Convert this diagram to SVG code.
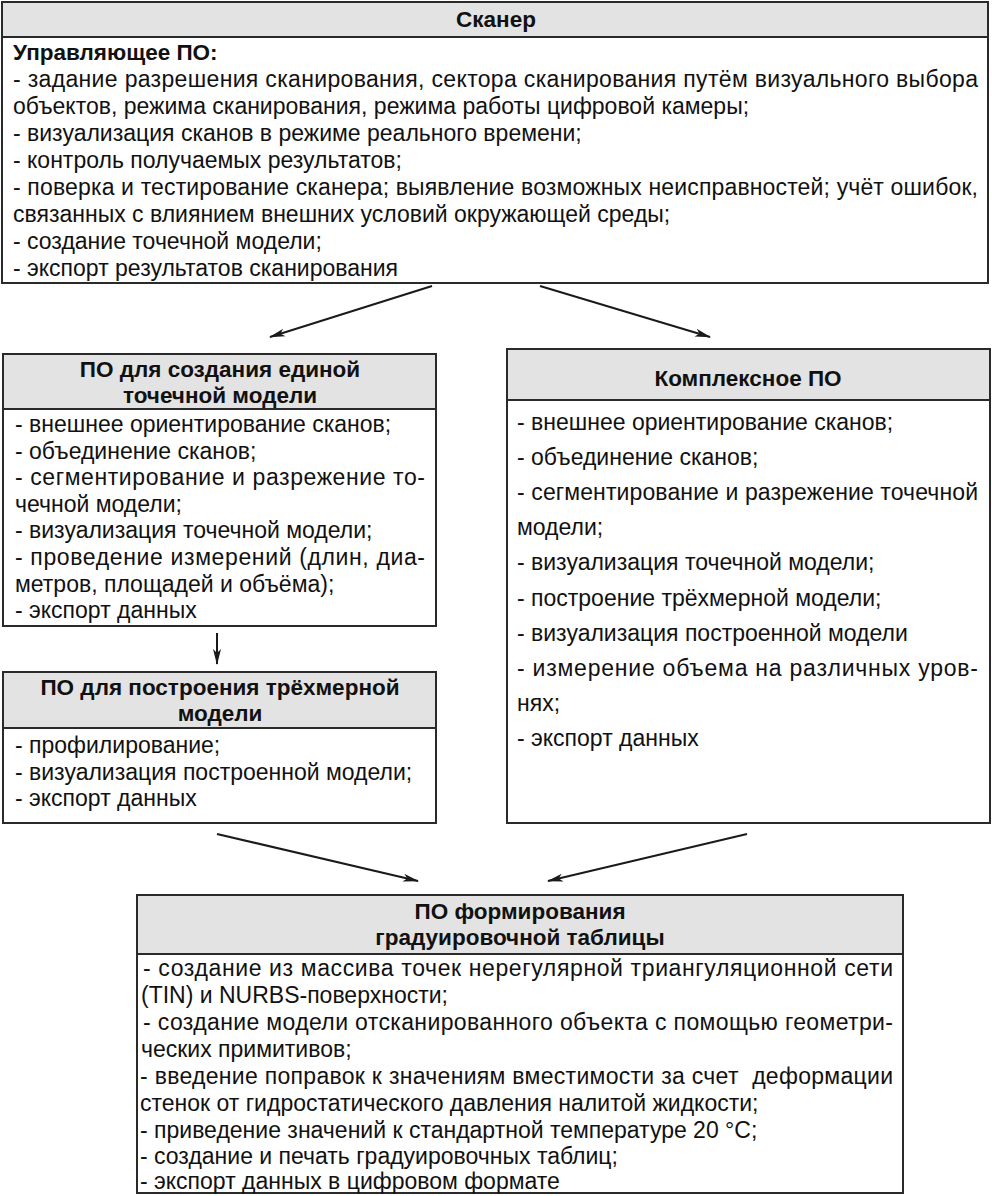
<svg xmlns="http://www.w3.org/2000/svg" width="992" height="1196" viewBox="0 0 992 1196">
<defs>
<style>
.box{fill:#ffffff;stroke:#2a2a2a;stroke-width:2}
.hdr{fill:#e3e3e3;stroke:#2a2a2a;stroke-width:2}
.t{font-family:"Liberation Sans",Arial,sans-serif;font-size:23px;fill:#111}
.b{font-family:"Liberation Sans",Arial,sans-serif;font-size:22.5px;font-weight:bold;fill:#111}
.c{text-anchor:middle}
.edge{stroke:#1a1a1a;stroke-width:2;fill:none;marker-end:url(#ah)}
</style>
<marker id="ah" markerUnits="userSpaceOnUse" markerWidth="16" markerHeight="10" viewBox="0 0 16 10" refX="15" refY="5" orient="auto">
<path d="M0,1 L16,5 L0,9 L4,5 Z" fill="#1a1a1a"/>
</marker>
</defs>
<rect width="992" height="1196" fill="#ffffff"/>

<g id="scanner">
<rect class="box" x="2" y="2" width="986" height="281"/>
<rect class="hdr" x="2" y="2" width="986" height="35"/>
<text class="b c" x="496" y="27">Сканер</text>
<text class="b" x="13" y="60">Управляющее ПО:</text>
<text class="t" x="13" y="87" textLength="965" lengthAdjust="spacing">- задание разрешения сканирования, сектора сканирования путём визуального выбора</text>
<text class="t" x="13" y="114">объектов, режима сканирования, режима работы цифровой камеры;</text>
<text class="t" x="13" y="141">- визуализация сканов в режиме реального времени;</text>
<text class="t" x="13" y="168">- контроль получаемых результатов;</text>
<text class="t" x="13" y="195" textLength="965" lengthAdjust="spacing">- поверка и тестирование сканера; выявление возможных неисправностей; учёт ошибок,</text>
<text class="t" x="13" y="222">связанных с влиянием внешних условий окружающей среды;</text>
<text class="t" x="13" y="249">- создание точечной модели;</text>
<text class="t" x="13" y="276">- экспорт результатов сканирования</text>
</g>

<g id="unified-model">
<rect class="box" x="3" y="354" width="433" height="272"/>
<rect class="hdr" x="3" y="354" width="433" height="55"/>
<text class="b c" x="220" y="377">ПО для создания единой</text>
<text class="b c" x="220" y="403">точечной модели</text>
<text class="t" x="15" y="432">- внешнее ориентирование сканов;</text>
<text class="t" x="15" y="459">- объединение сканов;</text>
<text class="t" x="15" y="485" textLength="410" lengthAdjust="spacing">- сегментирование и разрежение то-</text>
<text class="t" x="15" y="512">чечной модели;</text>
<text class="t" x="15" y="538">- визуализация точечной модели;</text>
<text class="t" x="15" y="565" textLength="410" lengthAdjust="spacing">- проведение измерений (длин, диа-</text>
<text class="t" x="15" y="592">метров, площадей и объёма);</text>
<text class="t" x="15" y="618">- экспорт данных</text>
</g>

<g id="model-3d">
<rect class="box" x="3" y="672" width="433" height="151"/>
<rect class="hdr" x="3" y="672" width="433" height="56"/>
<text class="b c" x="220" y="695">ПО для построения трёхмерной</text>
<text class="b c" x="220" y="721">модели</text>
<text class="t" x="15" y="753">- профилирование;</text>
<text class="t" x="15" y="780">- визуализация построенной модели;</text>
<text class="t" x="15" y="806">- экспорт данных</text>
</g>

<g id="complex">
<rect class="box" x="507" y="349" width="483" height="474"/>
<rect class="hdr" x="507" y="349" width="483" height="51"/>
<text class="b c" x="748" y="386">Комплексное ПО</text>
<text class="t" x="517" y="430">- внешнее ориентирование сканов;</text>
<text class="t" x="517" y="465">- объединение сканов;</text>
<text class="t" x="517" y="500" textLength="461" lengthAdjust="spacing">- сегментирование и разрежение точечной</text>
<text class="t" x="517" y="535">модели;</text>
<text class="t" x="517" y="570">- визуализация точечной модели;</text>
<text class="t" x="517" y="606">- построение трёхмерной модели;</text>
<text class="t" x="517" y="641">- визуализация построенной модели</text>
<text class="t" x="517" y="676" textLength="461" lengthAdjust="spacing">- измерение объема на различных уров-</text>
<text class="t" x="517" y="711">нях;</text>
<text class="t" x="517" y="746">- экспорт данных</text>
</g>

<g id="calibration-table">
<rect class="box" x="137" y="895" width="766" height="298"/>
<rect class="hdr" x="137" y="895" width="766" height="59"/>
<text class="b c" x="520" y="919">ПО формирования</text>
<text class="b c" x="520" y="945">градуировочной таблицы</text>
<text class="t" x="143" y="976" textLength="750" lengthAdjust="spacing">- создание из массива точек нерегулярной триангуляционной сети</text>
<text class="t" x="141" y="1003">(TIN) и NURBS-поверхности;</text>
<text class="t" x="143" y="1030" textLength="750" lengthAdjust="spacing">- создание модели отсканированного объекта с помощью геометри-</text>
<text class="t" x="141" y="1057">ческих примитивов;</text>
<text class="t" x="140" y="1084" textLength="753" lengthAdjust="spacing" xml:space="preserve">- введение поправок к значениям вместимости за счет  деформации</text>
<text class="t" x="140" y="1111">стенок от гидростатического давления налитой жидкости;</text>
<text class="t" x="140" y="1138">- приведение значений к стандартной температуре 20 °С;</text>
<text class="t" x="140" y="1164">- создание и печать градуировочных таблиц;</text>
<text class="t" x="140" y="1189">- экспорт данных в цифровом формате</text>
</g>

<g id="connectors">
<line class="edge" x1="432" y1="286" x2="270" y2="337"/>
<line class="edge" x1="540" y1="286" x2="710" y2="337"/>
<line class="edge" x1="217" y1="633" x2="217" y2="664"/>
<line class="edge" x1="217" y1="834" x2="418" y2="881"/>
<line class="edge" x1="747" y1="834" x2="548" y2="881"/>
</g>
</svg>
